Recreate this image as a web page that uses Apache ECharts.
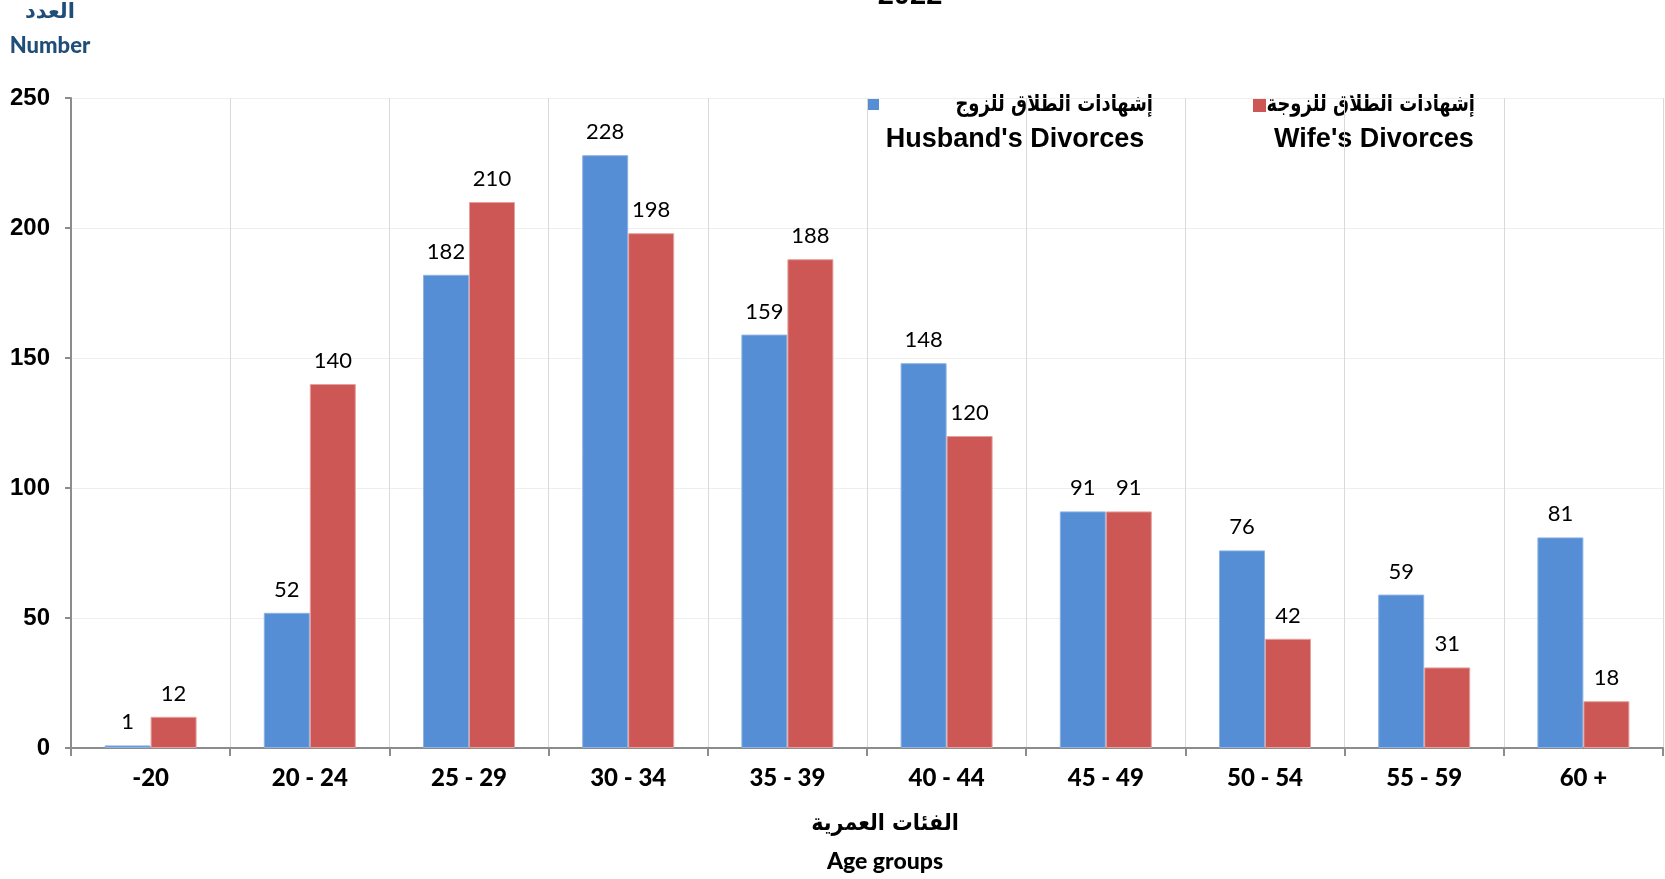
<!DOCTYPE html>
<html>
<head>
<meta charset="utf-8">
<script src="https://cdn.jsdelivr.net/npm/echarts@6/dist/echarts.min.js"></script>
<style>
html,body{margin:0;padding:0;background:#fff;}
#chart{width:1665px;height:879px;}
</style>
</head>
<body>
<div id="chart"></div>
<script>
const categories = ['-20', '20 - 24', '25 - 29', '30 - 34', '35 - 39', '40 - 44', '45 - 49', '50 - 54', '55 - 59', '60 +'];
const husbandDivorces = [1, 52, 182, 228, 159, 148, 91, 76, 59, 81];
const wifeDivorces = [12, 140, 210, 198, 188, 120, 91, 42, 31, 18];
const yTicks = [0, 50, 100, 150, 200, 250];
const seriesNamesAr = ['إشهادات الطلاق للزوج', 'إشهادات الطلاق للزوجة'];
const seriesNamesEn = ["Husband's Divorces", "Wife's Divorces"];
const seriesColors = ['#558ED5', '#CD5755'];
const seriesBorders = ['#8DB3E2', '#E6A0A0'];

const chart = echarts.init(document.getElementById('chart'));
const labelStyle = {show: true, position: 'top', distance: 12, color: '#000', fontFamily: 'Lato', fontSize: 22};
const option = {
  animation: false,
  grid: {left: 71, right: 2, top: 98, bottom: 131, containLabel: false},
  xAxis: {
    type: 'category',
    data: categories,
    axisLine: {lineStyle: {color: '#8C8C8C', width: 2}},
    axisTick: {show: true, length: 8, lineStyle: {color: '#8C8C8C', width: 2}},
    axisLabel: {color: '#000', fontFamily: 'Lato', fontWeight: 900, fontSize: 24, margin: 18},
    splitLine: {show: true, lineStyle: {color: '#D9D9D9', width: 1}}
  },
  yAxis: {
    type: 'value',
    min: yTicks[0], max: yTicks[yTicks.length - 1], interval: yTicks[1] - yTicks[0],
    axisLine: {show: true, lineStyle: {color: '#8C8C8C', width: 2}},
    axisTick: {show: true, length: 6, lineStyle: {color: '#8C8C8C', width: 2}},
    axisLabel: {color: '#000', fontFamily: 'Liberation Sans', fontWeight: 'bold', fontSize: 24, margin: 21},
    splitLine: {show: true, lineStyle: {color: '#EFEEE8', width: 1}}
  },
  series: [
    {
      name: seriesNamesEn[0], type: 'bar', data: husbandDivorces, barWidth: 46, barGap: '0%',
      itemStyle: {color: seriesColors[0], borderColor: seriesBorders[0], borderWidth: 1},
      label: labelStyle
    },
    {
      name: seriesNamesEn[1], type: 'bar', data: wifeDivorces, barWidth: 46, barGap: '0%',
      itemStyle: {color: seriesColors[1], borderColor: seriesBorders[1], borderWidth: 1},
      label: labelStyle
    }
  ],
  graphic: [
    {type: 'text', x: 910, y: -4, style: {text: '2022', fill: '#000', font: 'bold 29px "Liberation Sans"', textAlign: 'center', textVerticalAlign: 'middle'}},
    {type: 'text', x: 50, y: 13, style: {text: 'العدد', fill: '#1F4E79', font: 'bold 21px "DejaVu Sans"', textAlign: 'center', textVerticalAlign: 'middle'}},
    {type: 'text', x: 50, y: 46, style: {text: 'Number', fill: '#1F4E79', font: '900 22px Lato', textAlign: 'center', textVerticalAlign: 'middle'}},
    {type: 'rect', shape: {x: 867, y: 98, width: 12, height: 12}, style: {fill: seriesColors[0]}},
    {type: 'text', x: 1153, y: 105, scaleX: 0.78, style: {text: seriesNamesAr[0], fill: '#000', font: 'bold 23px "DejaVu Sans"', textAlign: 'right', textVerticalAlign: 'middle'}},
    {type: 'text', x: 1015, y: 140, style: {text: seriesNamesEn[0], fill: '#000', font: 'bold 27px "Liberation Sans"', textAlign: 'center', textVerticalAlign: 'middle'}},
    {type: 'rect', shape: {x: 1253, y: 99, width: 13, height: 13}, style: {fill: seriesColors[1]}},
    {type: 'text', x: 1475, y: 105, scaleX: 0.78, style: {text: seriesNamesAr[1], fill: '#000', font: 'bold 23px "DejaVu Sans"', textAlign: 'right', textVerticalAlign: 'middle'}},
    {type: 'text', x: 1374, y: 140, style: {text: seriesNamesEn[1], fill: '#000', font: 'bold 27px "Liberation Sans"', textAlign: 'center', textVerticalAlign: 'middle'}},
    {type: 'text', x: 885, y: 824, scaleX: 0.9, style: {text: 'الفئات العمرية', fill: '#000', font: 'bold 23px "DejaVu Sans"', textAlign: 'center', textVerticalAlign: 'middle'}},
    {type: 'text', x: 885, y: 862, style: {text: 'Age groups', fill: '#000', font: '900 23px Lato', textAlign: 'center', textVerticalAlign: 'middle'}}
  ]
};
chart.setOption(option);
</script>
</body>
</html>
